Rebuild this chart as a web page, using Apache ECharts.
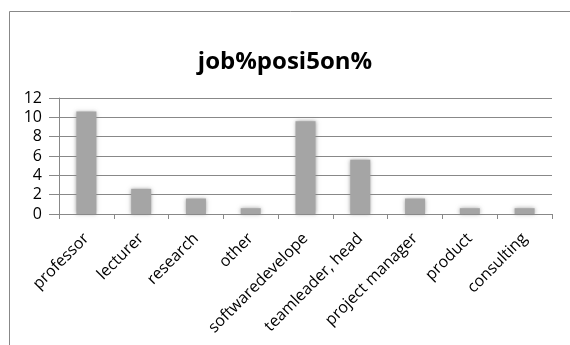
<!DOCTYPE html>
<html>
<head>
<meta charset="utf-8">
<script src="https://cdn.jsdelivr.net/npm/echarts@6/dist/echarts.min.js"></script>
<style>
  html, body { margin: 0; padding: 0; background: #fff; }
  #main { width: 570px; height: 345px; }
</style>
</head>
<body>
<div id="main"></div>
<script>
// 数据
var categories = ['professor', 'lecturer', 'research', 'other', 'softwaredevelope',
  'teamleader, head', 'project manager', 'product', 'consulting'];
var values = [10.6, 2.6, 1.6, 0.6, 9.6, 5.6, 1.6, 0.6, 0.6];
var titleText = 'job%posi5on%';

var myChart = echarts.init(document.getElementById('main'));
var option = {
    backgroundColor: '#fff',
    animation: false,
    title: {
        text: titleText,
        left: 'center',
        top: 45,
        textStyle: {
            fontFamily: 'Open Sans',
            fontWeight: 'bold',
            fontSize: 24,
            color: '#000'
        }
    },
    graphic: [{
        type: 'rect',
        shape: { x: 9.5, y: 11.5, width: 600, height: 400 },
        style: { fill: 'none', stroke: '#888', lineWidth: 1 }
    }],
    grid: { left: 59, right: 18, top: 98, bottom: 131 },
    xAxis: {
        type: 'category',
        data: categories,
        axisLine: { lineStyle: { color: '#888' } },
        axisTick: { show: true, length: 5, lineStyle: { color: '#888' } },
        axisLabel: {
            rotate: 45,
            interval: 0,
            margin: 22,
            fontFamily: 'Open Sans',
            fontSize: 16,
            color: '#000'
        }
    },
    yAxis: {
        type: 'value',
        min: 0,
        max: 12,
        interval: 2,
        axisLine: { show: true, lineStyle: { color: '#888' } },
        axisTick: { show: true, length: 10, lineStyle: { color: '#888' } },
        splitLine: { lineStyle: { color: '#888', width: 1 } },
        axisLabel: {
            margin: 17,
            fontFamily: 'Open Sans',
            fontSize: 16,
            color: '#000'
        }
    },
    series: [{
        type: 'bar',
        data: values,
        barWidth: 20,
        itemStyle: {
            color: '#a5a5a5',
            shadowBlur: 4,
            shadowColor: 'rgba(140,140,140,0.8)'
        }
    }]
};
myChart.setOption(option);
</script>
</body>
</html>
